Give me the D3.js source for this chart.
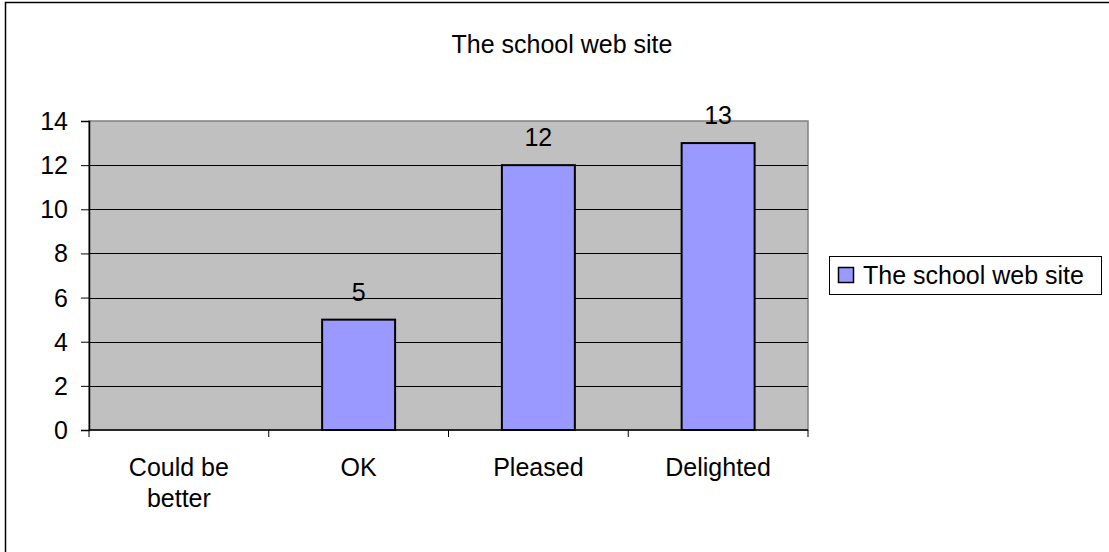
<!DOCTYPE html>
<html>
<head>
<meta charset="utf-8">
<script src="https://cdn.jsdelivr.net/npm/d3@7"></script>
<style>
  body { margin: 0; background: #fff; }
  svg text { font-family: "Liberation Sans", Arial, sans-serif; fill: #000; }
</style>
</head>
<body>
<div id="chart"></div>
<script>
const title = 'The school web site';
const seriesName = 'The school web site';
const categories = [['Could be', 'better'], ['OK'], ['Pleased'], ['Delighted']];
const values = [0, 5, 12, 13];
const yTicks = [0, 2, 4, 6, 8, 10, 12, 14];

const width = 1109;
const height = 552;
const plot = { left: 89, top: 121, right: 808, bottom: 430 };
const fontSize = 25;

const svg = d3.select('#chart').append('svg')
  .attr('width', width)
  .attr('height', height);

// chart frame (right/bottom run past the picture)
svg.append('rect')
  .attr('x', 5.5).attr('y', 2.5)
  .attr('width', width + 20).attr('height', height + 20)
  .attr('fill', '#fff')
  .attr('stroke', '#000')
  .attr('stroke-width', 1.5);

svg.append('text')
  .attr('x', 562).attr('y', 53)
  .attr('text-anchor', 'middle')
  .attr('font-size', fontSize)
  .text(title);

const x = d3.scaleBand()
  .domain(d3.range(categories.length))
  .range([plot.left, plot.right])
  .padding(0);

const y = d3.scaleLinear()
  .domain([0, 14])
  .range([plot.bottom, plot.top]);

const barWidth = x.bandwidth() * 0.406;

svg.append('rect')
  .attr('x', plot.left).attr('y', plot.top)
  .attr('width', plot.right - plot.left)
  .attr('height', plot.bottom - plot.top)
  .attr('fill', '#c0c0c0')
  .attr('stroke', '#808080')
  .attr('stroke-width', 1.5);

svg.append('g').selectAll('line')
  .data(yTicks.filter(d => d > 0 && d < 14))
  .join('line')
  .attr('x1', plot.left).attr('x2', plot.right)
  .attr('y1', d => Math.round(y(d)) + 0.5)
  .attr('y2', d => Math.round(y(d)) + 0.5)
  .attr('stroke', '#000')
  .attr('stroke-width', 1);

svg.append('g').selectAll('rect')
  .data(values)
  .join('rect')
  .attr('x', (d, i) => x(i) + (x.bandwidth() - barWidth) / 2)
  .attr('y', d => y(d))
  .attr('width', barWidth)
  .attr('height', d => y(0) - y(d))
  .attr('fill', '#9999ff')
  .attr('stroke', '#000')
  .attr('stroke-width', 2)
  .attr('display', d => d > 0 ? null : 'none');

svg.append('g').selectAll('text')
  .data(values)
  .join('text')
  .attr('x', (d, i) => x(i) + x.bandwidth() / 2)
  .attr('y', d => y(d) - 19)
  .attr('text-anchor', 'middle')
  .attr('font-size', fontSize)
  .attr('display', d => d > 0 ? null : 'none')
  .text(d => d);

// y axis
const yAxis = d3.axisLeft(y).tickValues(yTicks).tickSize(8).tickPadding(13);
const yg = svg.append('g')
  .attr('transform', `translate(${plot.left},0)`)
  .call(yAxis);
yg.select('.domain').attr('stroke', '#000').attr('stroke-width', 1.5);
yg.selectAll('.tick line').attr('stroke', '#000');
yg.selectAll('.tick text')
  .attr('font-size', fontSize)
  .attr('font-family', '"Liberation Sans", Arial, sans-serif')
  .attr('dy', '0.34em');

// x axis
const xg = svg.append('g').attr('class', 'x-axis');
xg.append('line')
  .attr('x1', plot.left).attr('x2', plot.right)
  .attr('y1', plot.bottom).attr('y2', plot.bottom)
  .attr('stroke', '#000').attr('stroke-width', 1.5);
xg.selectAll('line.tick')
  .data(d3.range(categories.length + 1))
  .join('line')
  .attr('class', 'tick')
  .attr('x1', i => i < categories.length ? x(i) : plot.right)
  .attr('x2', i => i < categories.length ? x(i) : plot.right)
  .attr('y1', plot.bottom).attr('y2', plot.bottom + 7)
  .attr('stroke', '#000');

xg.selectAll('text')
  .data(categories)
  .join('text')
  .attr('x', (d, i) => x(i) + x.bandwidth() / 2)
  .attr('y', 476)
  .attr('text-anchor', 'middle')
  .attr('font-size', fontSize)
  .selectAll('tspan')
  .data(d => d)
  .join('tspan')
  .attr('x', function () { return this.parentNode.getAttribute('x'); })
  .attr('dy', (d, i) => i === 0 ? 0 : 31)
  .text(d => d);

// legend
const legend = svg.append('g');
legend.append('rect')
  .attr('x', 829.5).attr('y', 256.5)
  .attr('width', 272).attr('height', 38)
  .attr('fill', '#fff')
  .attr('stroke', '#000')
  .attr('stroke-width', 1);
legend.append('rect')
  .attr('x', 838.5).attr('y', 267.5)
  .attr('width', 15).attr('height', 15)
  .attr('fill', '#9999ff')
  .attr('stroke', '#000')
  .attr('stroke-width', 1.5);
legend.append('text')
  .attr('x', 863).attr('y', 284)
  .attr('font-size', fontSize)
  .text(seriesName);
</script>
</body>
</html>
